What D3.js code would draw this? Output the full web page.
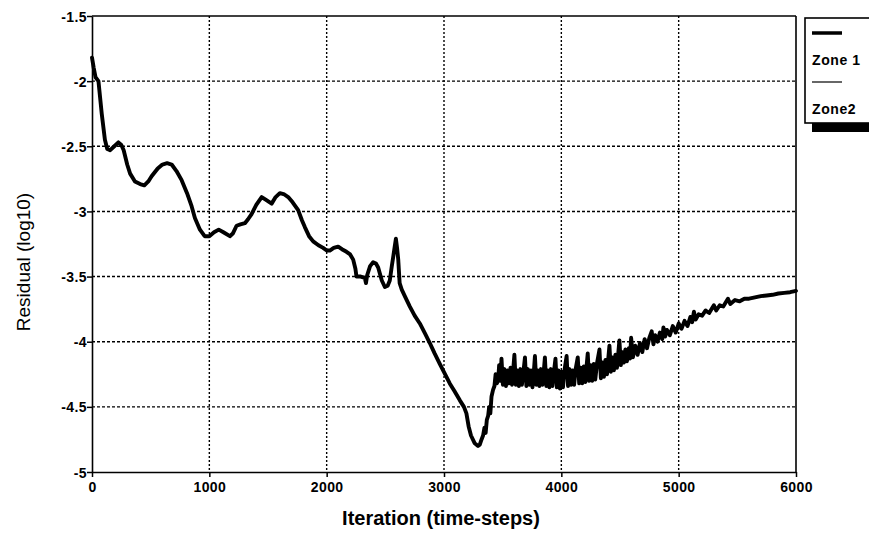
<!DOCTYPE html>
<html>
<head>
<meta charset="utf-8">
<script src="https://cdn.jsdelivr.net/npm/d3@7"></script>
<style>
  html, body { margin: 0; padding: 0; background: #fff; }
  svg { display: block; }
  text { font-family: "Liberation Sans", Arial, Helvetica, sans-serif; fill: #000; }
</style>
</head>
<body>
<svg id="chart" width="869" height="535"></svg>
<script>
// ---- data ----
const xTicks = [0, 1000, 2000, 3000, 4000, 5000, 6000];
const yTicks = [-1.5, -2, -2.5, -3, -3.5, -4, -4.5, -5];
const yTickLabels = ["-1.5", "-2", "-2.5", "-3", "-3.5", "-4", "-4.5", "-5"];
const legendLabels = ["Zone 1", "Zone2"];
const xTitle = "Iteration (time-steps)";
const yTitle = "Residual (log10)";

// Zone 1 residual: [iteration, log10 residual]
const zone1 = [
  [0,-1.82],[15,-1.9],[30,-1.97],[55,-2.0],[83,-2.25],[110,-2.45],[130,-2.52],[155,-2.53],
  [190,-2.5],[225,-2.47],[250,-2.49],[270,-2.53],[300,-2.64],[325,-2.71],[366,-2.77],[410,-2.79],
  [446,-2.80],[480,-2.77],[508,-2.73],[560,-2.67],[600,-2.64],[640,-2.63],[679,-2.64],[720,-2.69],
  [764,-2.76],[810,-2.86],[849,-2.96],[877,-3.05],[920,-3.14],[960,-3.19],[1000,-3.19],[1040,-3.16],
  [1080,-3.14],[1120,-3.16],[1175,-3.19],[1200,-3.17],[1232,-3.11],[1265,-3.10],[1303,-3.09],
  [1330,-3.06],[1360,-3.02],[1400,-2.95],[1446,-2.89],[1480,-2.91],[1531,-2.94],[1565,-2.89],
  [1601,-2.86],[1640,-2.87],[1672,-2.89],[1710,-2.93],[1757,-2.99],[1790,-3.07],[1814,-3.12],
  [1850,-3.19],[1885,-3.23],[1930,-3.26],[1970,-3.28],[2000,-3.30],[2027,-3.30],[2060,-3.28],
  [2098,-3.27],[2130,-3.29],[2169,-3.31],[2200,-3.33],[2226,-3.37],[2245,-3.44],[2254,-3.50],
  [2290,-3.50],[2325,-3.51],[2335,-3.55],[2345,-3.49],[2370,-3.42],[2396,-3.39],[2420,-3.40],
  [2439,-3.43],[2470,-3.53],[2496,-3.58],[2520,-3.57],[2538,-3.53],[2555,-3.42],[2567,-3.35],
  [2580,-3.27],[2590,-3.21],[2600,-3.28],[2610,-3.37],[2622,-3.55],[2640,-3.60],[2666,-3.65],
  [2709,-3.73],[2750,-3.80],[2794,-3.86],[2840,-3.94],[2879,-4.01],[2920,-4.09],[2964,-4.17],
  [3010,-4.25],[3049,-4.32],[3090,-4.38],[3135,-4.45],[3170,-4.50],[3191,-4.55],[3210,-4.65],
  [3230,-4.72],[3262,-4.78],[3290,-4.80],[3305,-4.79],[3320,-4.75],[3333,-4.72],[3345,-4.66],
  [3355,-4.70],[3365,-4.60],[3376,-4.57],[3385,-4.50],[3395,-4.55],[3405,-4.42],[3418,-4.37],
  [3430,-4.34],[3440,-4.25],[3450,-4.32],[3461,-4.30],[3470,-4.18],[3480,-4.30],
  [3490,-4.13],[3502,-4.33],[3515,-4.21],[3528,-4.34],[3541,-4.22],[3554,-4.32],[3567,-4.20],[3580,-4.33],
  [3600,-4.10],[3612,-4.33],[3625,-4.22],[3638,-4.34],[3651,-4.21],[3664,-4.33],[3677,-4.23],
  [3690,-4.12],[3702,-4.34],[3715,-4.21],[3728,-4.33],[3741,-4.22],[3754,-4.35],[3765,-4.24],
  [3775,-4.11],[3787,-4.33],[3800,-4.22],[3813,-4.34],[3826,-4.21],[3839,-4.33],[3850,-4.23],
  [3860,-4.12],[3872,-4.34],[3885,-4.22],[3898,-4.35],[3911,-4.21],[3924,-4.34],[3937,-4.23],
  [3950,-4.13],[3962,-4.35],[3975,-4.22],[3988,-4.36],[4001,-4.23],[4014,-4.35],[4027,-4.22],
  [4045,-4.11],[4057,-4.34],[4070,-4.21],[4083,-4.33],[4096,-4.22],[4109,-4.33],[4122,-4.21],
  [4140,-4.12],[4152,-4.32],[4165,-4.20],[4178,-4.32],[4191,-4.19],[4204,-4.31],[4214,-4.20],
  [4225,-4.09],[4237,-4.30],[4250,-4.18],[4263,-4.30],[4276,-4.17],[4289,-4.29],[4305,-4.16],
  [4325,-4.06],[4337,-4.28],[4350,-4.16],[4363,-4.27],[4376,-4.14],[4389,-4.25],[4400,-4.13],
  [4410,-4.03],[4422,-4.23],[4435,-4.12],[4448,-4.22],[4461,-4.10],[4474,-4.20],[4485,-4.09],
  [4495,-3.99],[4507,-4.18],[4520,-4.08],[4533,-4.16],[4546,-4.06],[4559,-4.15],[4575,-4.05],[4585,-4.13],
  [4595,-3.97],[4610,-4.12],[4630,-4.03],[4650,-4.10],[4670,-4.01],[4690,-4.08],[4710,-3.98],[4730,-4.05],
  [4750,-3.97],[4770,-3.92],[4785,-4.02],[4800,-3.95],[4820,-4.00],[4840,-3.93],[4860,-3.98],[4870,-3.89],
  [4885,-3.96],[4900,-3.91],[4925,-3.95],[4950,-3.88],[4975,-3.93],[5000,-3.86],[5025,-3.90],[5050,-3.84],
  [5075,-3.88],[5100,-3.81],[5115,-3.85],[5130,-3.77],[5145,-3.83],[5170,-3.79],[5200,-3.80],[5230,-3.76],
  [5260,-3.78],[5300,-3.72],[5320,-3.76],[5350,-3.72],[5380,-3.73],[5420,-3.67],[5440,-3.71],[5480,-3.68],
  [5520,-3.69],[5560,-3.67],[5600,-3.67],[5650,-3.66],[5700,-3.65],[5750,-3.645],[5800,-3.64],[5850,-3.63],
  [5900,-3.625],[5950,-3.62],[6000,-3.61]
];

// ---- layout ----
const svg = d3.select("#chart");
const x = d3.scaleLinear().domain([0, 6000]).range([92, 796]);
const y = d3.scaleLinear().domain([-5, -1.5]).range([472, 16]);

// grid
const grid = svg.append("g");
grid.selectAll("line.vg").data(xTicks.slice(1, -1)).enter().append("line")
  .attr("x1", d => x(d)).attr("x2", d => x(d))
  .attr("y1", y(-1.5)).attr("y2", y(-5))
  .attr("stroke", "#000").attr("stroke-width", 1.4).attr("stroke-dasharray", "2,2");
grid.selectAll("line.hg").data(yTicks.slice(1, -1)).enter().append("line")
  .attr("x1", x(0)).attr("x2", x(6000))
  .attr("y1", d => y(d)).attr("y2", d => y(d))
  .attr("stroke", "#000").attr("stroke-width", 1.4).attr("stroke-dasharray", "3,2");

// axes
const yAxis = d3.axisLeft(y).tickValues(yTicks).tickSize(5).tickSizeOuter(0)
  .tickFormat((d, i) => yTickLabels[i]);
const gy = svg.append("g").attr("transform", `translate(${x(0)},0)`).call(yAxis);
const xAxis = d3.axisBottom(x).tickValues(xTicks).tickSize(5).tickSizeOuter(0)
  .tickFormat(d3.format("d"));
const gx = svg.append("g").attr("transform", `translate(0,${y(-5)})`).call(xAxis);
[gx, gy].forEach(g => {
  g.select(".domain").attr("stroke", "#000").attr("stroke-width", 1.6);
  g.selectAll(".tick line").attr("stroke", "#000").attr("stroke-width", 1.5);
  g.selectAll(".tick text").attr("font-family", "Liberation Sans, Arial, sans-serif")
    .attr("font-size", 14).attr("font-weight", "bold").attr("fill", "#000")
    .style("letter-spacing", "0.4px");
});
gy.selectAll(".tick text").attr("x", -5).attr("dy", "0.36em");
gx.selectAll(".tick text").attr("y", 9).attr("dy", "0.75em");

// top & right frame
svg.append("line").attr("x1", x(0)).attr("x2", x(6000)).attr("y1", y(-1.5)).attr("y2", y(-1.5))
  .attr("stroke", "#000").attr("stroke-width", 1.6);
svg.append("line").attr("x1", x(6000)).attr("x2", x(6000)).attr("y1", y(-1.5)).attr("y2", y(-5))
  .attr("stroke", "#000").attr("stroke-width", 1.6);

// series
const line = d3.line().x(d => x(d[0])).y(d => y(d[1]));
svg.append("path").datum(zone1).attr("d", line)
  .attr("fill", "none").attr("stroke", "#000").attr("stroke-width", 3.9)
  .attr("stroke-linejoin", "round").attr("stroke-linecap", "round");

// axis titles
svg.append("text").attr("x", 441).attr("y", 525).attr("text-anchor", "middle")
  .attr("font-size", 20).attr("font-weight", "bold").text(xTitle);
svg.append("text").attr("transform", "translate(30,262) rotate(-90)").attr("text-anchor", "middle")
  .attr("font-size", 19).text(yTitle);

// legend
const lg = svg.append("g");
lg.append("rect").attr("x", 812).attr("y", 123).attr("width", 70).attr("height", 9).attr("fill", "#000");
lg.append("rect").attr("x", 805).attr("y", 18).attr("width", 80).attr("height", 105)
  .attr("fill", "#fff").attr("stroke", "#000").attr("stroke-width", 1.6);
const lw = [3.5, 1.2];
legendLabels.forEach((lab, i) => {
  const y0 = 33 + i * 49;
  lg.append("line").attr("x1", 812).attr("x2", 842).attr("y1", y0).attr("y2", y0)
    .attr("stroke", "#000").attr("stroke-width", lw[i]);
  lg.append("text").attr("x", 812).attr("y", y0 + 32).attr("font-size", 14)
    .attr("font-weight", "bold").style("letter-spacing", "0.6px").text(lab);
});
</script>
</body>
</html>
